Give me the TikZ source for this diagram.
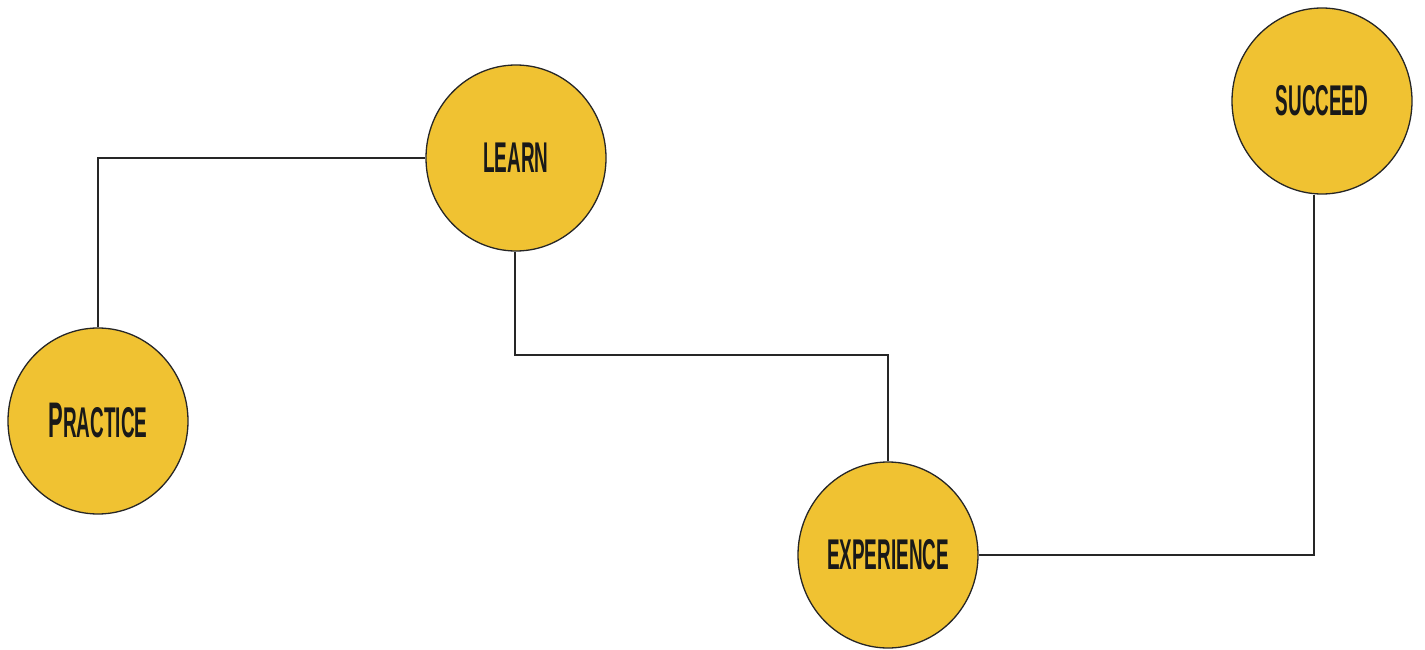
\documentclass[tikz,border=0pt]{standalone}
\usepackage{fontspec}
\usetikzlibrary{shapes.geometric}
\newfontfamily\labfont[FakeStretch=0.44]{Liberation Sans}
\definecolor{disc}{RGB}{240,194,50}
\tikzset{
  stage/.style={ellipse, draw=black!85, line width=1.3pt, fill=disc,
    minimum width=180pt, minimum height=186pt, inner sep=0pt,
    font=\labfont\bfseries\fontsize{43}{43}\selectfont, text=black!90},
  link/.style={draw=black!85, line width=1.1pt}
}
\begin{document}
\begin{tikzpicture}[x=1pt,y=-1pt]
\useasboundingbox (0,0) rectangle (1425,650);
\node[stage] (prac) at (98,421) {{\fontsize{50}{50}\selectfont P}RACTICE};
\node[stage] (learn) at (516,158) {LEARN};
\node[stage] (exp) at (888,555) {EXPERIENCE};
\node[stage] (succ) at (1322,101) {SUCCEED};
\coordinate (m1) at (700,355);
\draw[link] (prac.north) |- (learn.west);
\draw[link] ([xshift=-1pt]learn.south) |- (m1) -| (exp.north);
\draw[link] (exp.east) -| ([xshift=-8pt]succ.south);
\end{tikzpicture}
\end{document}
